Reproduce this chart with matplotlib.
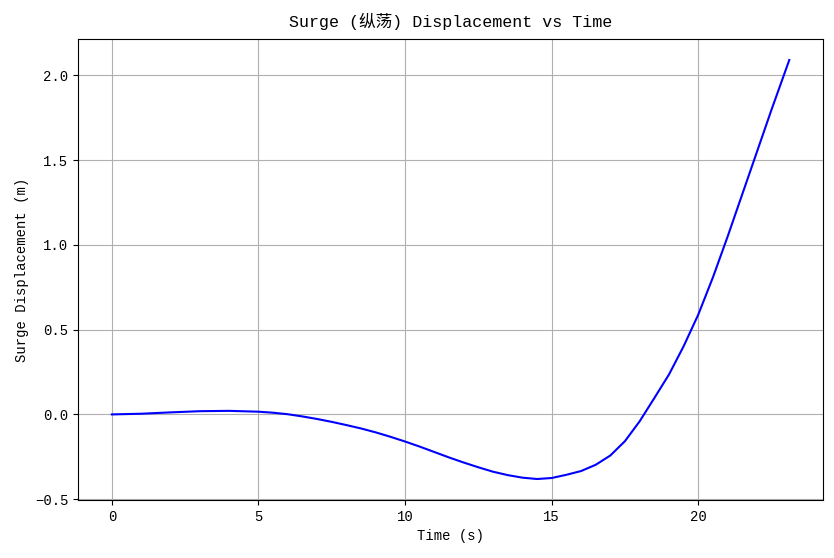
import matplotlib
matplotlib.use('Agg')
import matplotlib.pyplot as plt

plt.rcParams['font.family'] = ['Liberation Mono', 'Noto Sans CJK SC', 'DejaVu Sans']

# values
time_s = [0, 1, 2, 3, 4, 5, 5.5, 6, 6.5, 7, 7.5, 8, 8.5, 9, 9.5, 10, 10.5,
          11, 11.5, 12, 12.5, 13, 13.5, 14, 14.5, 15, 15.5, 16, 16.5, 17,
          17.5, 18, 18.5, 19, 19.5, 20, 20.5, 21, 21.5, 22, 22.5, 23.1]
surge_m = [0.0, 0.004, 0.012, 0.019, 0.021, 0.016, 0.010, 0.001, -0.012,
           -0.027, -0.044, -0.063, -0.083, -0.106, -0.132, -0.16, -0.19,
           -0.222, -0.254, -0.284, -0.312, -0.338, -0.358, -0.373, -0.381,
           -0.375, -0.356, -0.334, -0.297, -0.242, -0.157, -0.04, 0.097, 0.236,
           0.403, 0.59, 0.81, 1.05, 1.30, 1.55, 1.80, 2.09]

fig, ax = plt.subplots(figsize=(8.34, 5.58), dpi=100)
ax.plot(time_s, surge_m, color='blue', linewidth=1.5)

ax.set_title('Surge (纵荡) Displacement vs Time', pad=9)
ax.set_xlabel('Time (s)')
ax.set_ylabel('Surge Displacement (m)')
ax.grid(True)

plt.subplots_adjust(left=0.0935, right=0.987, top=0.930, bottom=0.104)
plt.savefig('out.png')
